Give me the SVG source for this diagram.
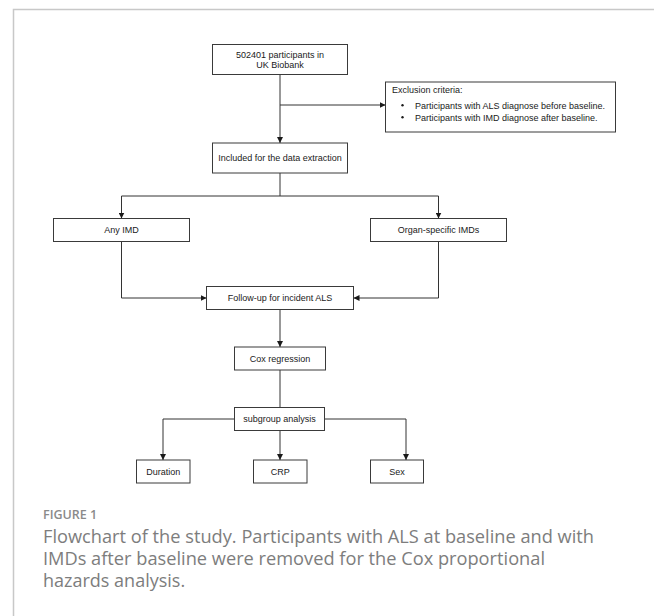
<svg xmlns="http://www.w3.org/2000/svg" width="654" height="616" viewBox="0 0 654 616">
<style>
  .box { fill: #ffffff; stroke: #3a3a3a; stroke-width: 1; }
  .t { font-family: "Liberation Sans", Arial, sans-serif; font-size: 9px; fill: #1a1a1a; }
  .c { text-anchor: middle; }
  .ln { fill: none; stroke: #333333; stroke-width: 1; }
  .cap { font-family: "Open Sans", Lato, sans-serif; font-size: 18px; fill: #7d7d7d; }
  .fig { font-family: "Open Sans", Lato, sans-serif; font-size: 12.5px; font-weight: 600; fill: #8a8a8a; }
</style>
<defs>
  <marker id="ah" markerWidth="6" markerHeight="6" refX="6" refY="3" orient="auto" markerUnits="userSpaceOnUse">
    <path d="M0,0 L6,3 L0,6 Z" fill="#1a1a1a"/>
  </marker>
</defs>
<rect x="0" y="0" width="654" height="616" fill="#ffffff"/>
<path d="M13.5,616 L13.5,9.5 L654,9.5" fill="none" stroke="#c8c8c8" stroke-width="1.5"/>

<g id="connectors">
  <path class="ln" d="M280,74.5 L280,143" marker-end="url(#ah)"/>
  <path class="ln" d="M280,105 L385.5,105" marker-end="url(#ah)"/>
  <path class="ln" d="M280,173 L280,196 M121.5,196 L438.5,196"/>
  <path class="ln" d="M121.5,196 L121.5,218.5" marker-end="url(#ah)"/>
  <path class="ln" d="M438.5,196 L438.5,218.5" marker-end="url(#ah)"/>
  <path class="ln" d="M121.5,241.5 L121.5,298 L206.5,298" marker-end="url(#ah)"/>
  <path class="ln" d="M438.5,241.5 L438.5,298 L353.5,298" marker-end="url(#ah)"/>
  <path class="ln" d="M280,309.5 L280,347" marker-end="url(#ah)"/>
  <path class="ln" d="M280,370 L280,407.5"/>
  <path class="ln" d="M234.5,419 L163,419 L163,460" marker-end="url(#ah)"/>
  <path class="ln" d="M324.5,419 L406,419 L406,460" marker-end="url(#ah)"/>
  <path class="ln" d="M280,430.5 L280,460" marker-end="url(#ah)"/>
</g>

<g id="n-start">
  <rect class="box" x="212.5" y="44.5" width="135" height="30"/>
  <text class="t c" x="280" y="57.5">502401 participants in</text>
  <text class="t c" x="280" y="67.5">UK Biobank</text>
</g>
<g id="n-exclusion">
  <rect class="box" x="385.5" y="82" width="230" height="50"/>
  <text class="t" x="392" y="92.5">Exclusion criteria:</text>
  <circle cx="402.5" cy="105.2" r="1.2" fill="#1a1a1a"/>
  <text class="t" x="415" y="108.5">Participants with ALS diagnose before baseline.</text>
  <circle cx="402.5" cy="117.2" r="1.2" fill="#1a1a1a"/>
  <text class="t" x="415" y="120.5">Participants with IMD diagnose after baseline.</text>
</g>
<g id="n-included">
  <rect class="box" x="212.5" y="143" width="135" height="30"/>
  <text class="t c" x="280" y="161">Included for the data extraction</text>
</g>
<g id="n-any">
  <rect class="box" x="53.5" y="218.5" width="136" height="23"/>
  <text class="t c" x="121.5" y="233">Any IMD</text>
</g>
<g id="n-organ">
  <rect class="box" x="370.5" y="218.5" width="136" height="23"/>
  <text class="t c" x="438.5" y="233">Organ-specific IMDs</text>
</g>
<g id="n-followup">
  <rect class="box" x="206.5" y="286.5" width="147" height="23"/>
  <text class="t c" x="280" y="301">Follow-up for incident ALS</text>
</g>
<g id="n-cox">
  <rect class="box" x="234.5" y="347" width="91" height="23"/>
  <text class="t c" x="280" y="361.5">Cox regression</text>
</g>
<g id="n-subgroup">
  <rect class="box" x="234.5" y="407.5" width="90" height="23"/>
  <text class="t c" x="279.5" y="422">subgroup analysis</text>
</g>
<g id="n-duration">
  <rect class="box" x="136.5" y="460" width="53.5" height="23"/>
  <text class="t c" x="163.25" y="474.5">Duration</text>
</g>
<g id="n-crp">
  <rect class="box" x="253.5" y="460" width="53.5" height="23"/>
  <text class="t c" x="280.25" y="474.5">CRP</text>
</g>
<g id="n-sex">
  <rect class="box" x="370.5" y="460" width="53" height="23"/>
  <text class="t c" x="397" y="474.5">Sex</text>
</g>

<g id="caption">
  <text class="fig" x="43" y="519">FIGURE 1</text>
  <text class="cap" x="43" y="543" textLength="551" lengthAdjust="spacingAndGlyphs">Flowchart of the study. Participants with ALS at baseline and with</text>
  <text class="cap" x="43" y="565" textLength="502" lengthAdjust="spacingAndGlyphs">IMDs after baseline were removed for the Cox proportional</text>
  <text class="cap" x="43" y="587">hazards analysis.</text>
</g>
</svg>
